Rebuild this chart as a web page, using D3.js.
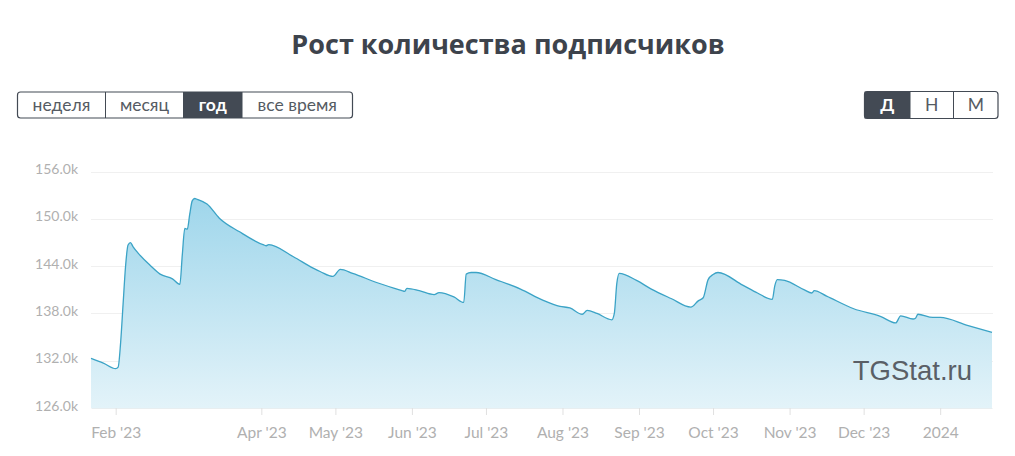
<!DOCTYPE html>
<html><head><meta charset="utf-8">
<script src="https://cdn.jsdelivr.net/npm/d3@7"></script>
<style>
html,body{margin:0;padding:0;background:#fff;}
svg{display:block;}
</style></head>
<body>
<svg id="chart" width="1015" height="456"></svg>
<script>
const title = "Рост количества подписчиков";
const periodButtons = ["неделя", "месяц", "год", "все время"];
const periodActive = "год";
const groupButtons = ["Д", "Н", "М"];
const groupActive = "Д";
const watermark = "TGStat.ru";

const dates = ["2023-01-22","2023-01-27","2023-02-01","2023-02-02","2023-02-03","2023-02-04","2023-02-05","2023-02-06","2023-02-07","2023-02-08","2023-02-10","2023-02-15","2023-02-19","2023-02-24","2023-02-27","2023-02-28","2023-03-01","2023-03-02","2023-03-03","2023-03-04","2023-03-05","2023-03-06","2023-03-10","2023-03-15","2023-03-23","2023-04-02","2023-04-03","2023-04-04","2023-04-14","2023-04-22","2023-04-25","2023-04-30","2023-05-03","2023-05-08","2023-05-18","2023-05-28","2023-05-29","2023-05-30","2023-06-04","2023-06-10","2023-06-12","2023-06-18","2023-06-22","2023-06-23","2023-06-25","2023-06-27","2023-07-05","2023-07-15","2023-07-24","2023-07-31","2023-08-04","2023-08-09","2023-08-11","2023-08-15","2023-08-21","2023-08-22","2023-08-23","2023-08-24","2023-08-31","2023-09-06","2023-09-14","2023-09-22","2023-09-25","2023-09-27","2023-09-29","2023-10-01","2023-10-03","2023-10-13","2023-10-19","2023-10-25","2023-10-26","2023-10-27","2023-10-30","2023-11-07","2023-11-10","2023-11-11","2023-11-16","2023-11-27","2023-12-08","2023-12-14","2023-12-16","2023-12-21","2023-12-22","2023-12-23","2023-12-29","2024-01-01","2024-01-12","2024-01-22"];
const subscribers = [132300,131700,131000,131200,134300,139200,144000,146700,147000,146500,145700,144100,143000,142400,141700,145500,148800,148700,150600,152300,152600,152500,151900,150100,148400,146700,146600,146750,145200,143750,143300,142700,143600,143100,141900,140900,140800,141200,140900,140400,140650,140100,139400,143000,143200,143200,142300,141100,139700,138900,138700,137900,138400,138000,137200,138000,141800,143100,142200,141100,139900,138800,139600,140000,142300,142950,143200,141600,140600,139800,141500,142300,142200,141000,140600,140900,140200,138600,137600,136800,137700,137300,137400,137900,137500,137500,136500,135600];

const yTicks = [126000,132000,138000,144000,150000,156000];
const xTickDates = ["2023-02-01","2023-04-01","2023-05-01","2023-06-01","2023-07-01","2023-08-01","2023-09-01","2023-10-01","2023-11-01","2023-12-01","2024-01-01"];
const xTickLabels = ["Feb '23","Apr '23","May '23","Jun '23","Jul '23","Aug '23","Sep '23","Oct '23","Nov '23","Dec '23","2024"];

(function(){
const parse = d3.timeParse("%Y-%m-%d");
const data = dates.map((d,i)=>({date:parse(d), value:subscribers[i]}));

const svg = d3.select("#chart");
const FONT = "Lato, 'Open Sans', sans-serif";

const pLeft = 91, pRight = 993, pTop = 171.7, pBottom = 408;
const x = d3.scaleTime().domain([parse("2023-01-22"), parse("2024-01-22")]).range([pLeft, pRight - 1]);
const y = d3.scaleLinear().domain([126000, 156000]).range([pBottom, pTop]);

// title
svg.append("text").attr("x", 508).attr("y", 54).attr("text-anchor","middle")
  .attr("font-family", "'Open Sans', sans-serif").attr("font-weight", 700).attr("font-size", 27)
  .attr("fill", "#3d434c").text(title);

// button groups
function buttons(items, active, x0, widths, yTop, h) {
  const g = svg.append("g");
  let cx = x0;
  const total = d3.sum(widths);
  items.forEach((t,i)=>{
    const w = widths[i];
    if (t === active) {
      g.append("rect").attr("x", cx).attr("y", yTop).attr("width", w).attr("height", h).attr("fill", "#434a54");
    }
    g.append("text").attr("x", cx + w/2).attr("y", yTop + h/2 + 6).attr("text-anchor","middle")
      .attr("font-family", FONT).attr("font-size", 17.5).attr("font-weight", t===active?700:400)
      .attr("fill", t===active?"#fff":"#555b63").text(t);
    if (i>0) g.append("line").attr("x1", cx).attr("x2", cx).attr("y1", yTop).attr("y2", yTop+h)
      .attr("stroke", "#434a54").attr("stroke-width", 1);
    cx += w;
  });
  g.append("rect").attr("x", x0).attr("y", yTop).attr("width", total).attr("height", h)
    .attr("rx", 3).attr("fill", "none").attr("stroke", "#434a54").attr("stroke-width", 1.2);
}
buttons(periodButtons, periodActive, 17.5, [88, 78, 58.5, 110.5], 92, 26);
buttons(groupButtons, groupActive, 864.5, [45.5, 43.5, 44.5], 91.5, 27);

// grid
svg.append("g").selectAll("line").data(yTicks.slice(1)).join("line")
  .attr("x1", pLeft).attr("x2", pRight).attr("y1", d=>Math.round(y(d))+0.5).attr("y2", d=>Math.round(y(d))+0.5)
  .attr("stroke", "#f0f0f0").attr("stroke-width", 1);

// y labels
svg.append("g").selectAll("text").data(yTicks).join("text")
  .attr("x", 78).attr("y", d=>y(d)+2.5).attr("text-anchor","end")
  .attr("font-family", FONT).attr("font-size", 14).attr("fill", "#b0b0b0")
  .text(d=>(d/1000).toFixed(1)+"k");

// area gradient
const defs = svg.append("defs");
const grad = defs.append("linearGradient").attr("id","fillGrad")
  .attr("gradientUnits","userSpaceOnUse").attr("x1",0).attr("y1", y(152600)).attr("x2",0).attr("y2", pBottom);
grad.append("stop").attr("offset", 0).attr("stop-color", "#9fd6eb");
grad.append("stop").attr("offset", 1).attr("stop-color", "#e3f3f9");

const area = d3.area().x(d=>x(d.date)).y0(pBottom).y1(d=>y(d.value)).curve(d3.curveMonotoneX);
const line = d3.line().x(d=>x(d.date)).y(d=>y(d.value)).curve(d3.curveMonotoneX);
svg.append("path").datum(data).attr("d", area).attr("fill", "url(#fillGrad)");
svg.append("path").datum(data).attr("d", line).attr("fill", "none").attr("stroke", "#3ba3c6").attr("stroke-width", 1.3);

// x axis
const xAxis = d3.axisBottom(x).tickValues(xTickDates.map(parse))
  .tickFormat((d,i)=>xTickLabels[i]).tickSize(7).tickSizeOuter(0).tickPadding(12);
const ax = svg.append("g").attr("transform", `translate(0,${pBottom})`).call(xAxis);
ax.select(".domain").attr("stroke", "#e8eef0");
ax.selectAll(".tick line").attr("stroke", "#e0e0e0");
ax.selectAll(".tick text").attr("font-family", FONT).attr("font-size", 15.5).attr("fill", "#b0b0b0");

// watermark
svg.append("text").attr("x", 972).attr("y", 380).attr("text-anchor","end")
  .attr("font-family", "'Liberation Sans', Arial, sans-serif").attr("font-weight", 400).attr("font-size", 27.5)
  .attr("fill", "#5a5f66").text(watermark);
})();
</script>
</body></html>
